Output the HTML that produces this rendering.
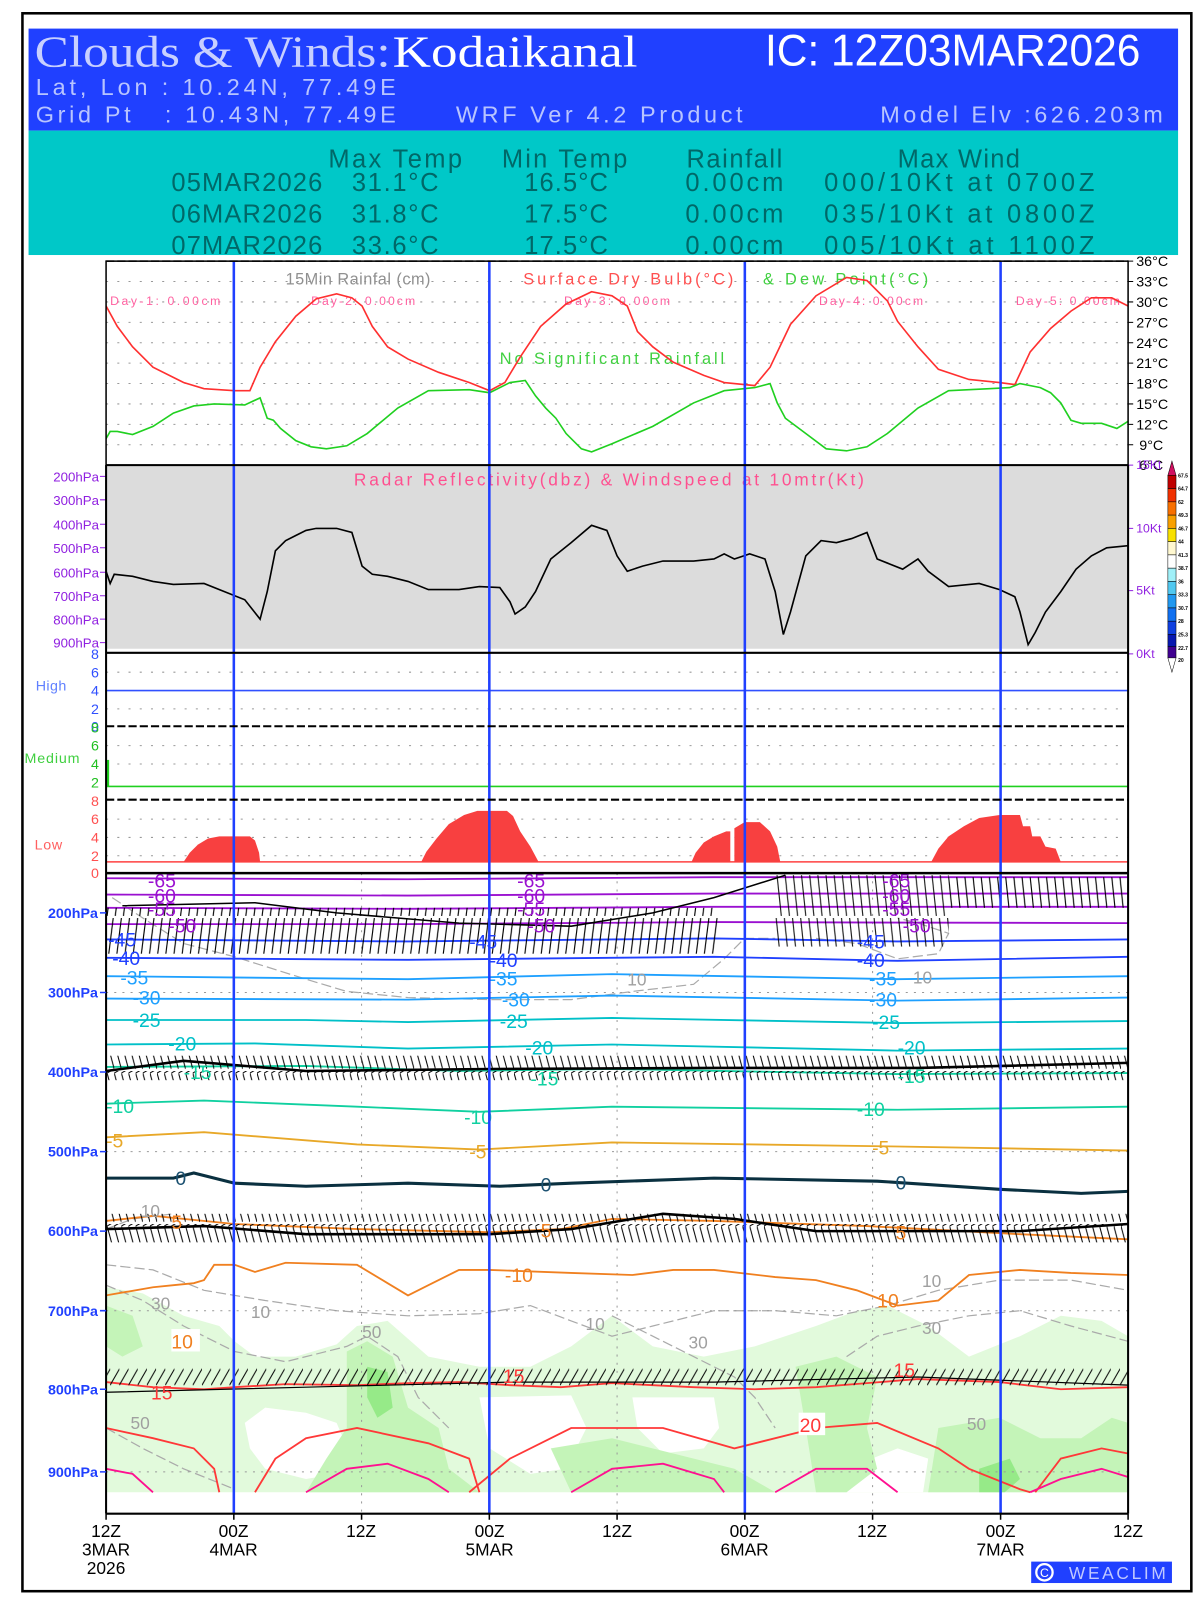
<!DOCTYPE html>
<html><head><meta charset="utf-8"><style>
html,body{margin:0;padding:0;background:#fff;width:1200px;height:1600px;overflow:hidden}
svg{display:block}
text{font-family:"Liberation Sans",sans-serif}
</style></head><body>
<svg width="1200" height="1600" viewBox="0 0 1176.5 1568.6" xmlns="http://www.w3.org/2000/svg">
<defs>
<pattern id="bA" width="8" height="50" patternUnits="userSpaceOnUse"><path d="M1 0 L6 48" stroke="#000" stroke-width="1.1"/></pattern>
<pattern id="bB" width="8" height="50" patternUnits="userSpaceOnUse"><path d="M7 0 L1 48" stroke="#000" stroke-width="1.1"/></pattern>
<pattern id="bC" width="7" height="30" patternUnits="userSpaceOnUse"><path d="M0 2 L7 28 M0 2 L14 -6" stroke="#000" stroke-width="1"/></pattern>
<pattern id="bD" width="9" height="34" patternUnits="userSpaceOnUse"><path d="M0 32 L16 4 M0 32 L-10 26" stroke="#000" stroke-width="1"/></pattern>
</defs>
<rect x="0" y="0" width="1176.5" height="1568.6" fill="#fff"/>
<rect x="22" y="13" width="1146" height="1547" fill="none" stroke="#000" stroke-width="2.5"/>
<!-- header -->
<rect x="28" y="28" width="1127" height="100" fill="#2040ff"/>
<text x="34" y="65" font-size="44" fill="#c8d0ff" style="font-family:'Liberation Serif',serif" textLength="349" lengthAdjust="spacingAndGlyphs">Clouds &amp; Winds:</text>
<text x="385" y="65" font-size="44" fill="#fff" style="font-family:'Liberation Serif',serif" textLength="240" lengthAdjust="spacingAndGlyphs">Kodaikanal</text>
<text x="750" y="64" font-size="44" fill="#fff" textLength="368" lengthAdjust="spacingAndGlyphs">IC: 12Z03MAR2026</text>
<text x="35" y="93" font-size="23" fill="#b8c4ff" textLength="353" lengthAdjust="spacing" xml:space="preserve">Lat, Lon : 10.24N, 77.49E</text>
<text x="35" y="120" font-size="23" fill="#b8c4ff" textLength="353" lengthAdjust="spacing" xml:space="preserve">Grid Pt   : 10.43N, 77.49E</text>
<text x="447" y="120" font-size="23" fill="#b8c4ff" textLength="281" lengthAdjust="spacing">WRF Ver 4.2 Product</text>
<text x="863" y="120" font-size="23" fill="#b8c4ff" textLength="277" lengthAdjust="spacing">Model Elv :626.203m</text>
<rect x="28" y="128" width="1127" height="122" fill="#00c8c8"/>
<g font-size="25" fill="#006868">
<text x="322" y="164" textLength="131" lengthAdjust="spacing">Max Temp</text><text x="492" y="164" textLength="123" lengthAdjust="spacing">Min Temp</text><text x="673" y="164" textLength="94" lengthAdjust="spacing">Rainfall</text><text x="880" y="164" textLength="120" lengthAdjust="spacing">Max Wind</text>
<text x="168" y="187" textLength="148" lengthAdjust="spacing">05MAR2026</text><text x="345" y="187" textLength="85" lengthAdjust="spacing">31.1°C</text><text x="514" y="187" textLength="82" lengthAdjust="spacing">16.5°C</text><text x="672" y="187" textLength="96" lengthAdjust="spacing">0.00cm</text><text x="808" y="187" textLength="265" lengthAdjust="spacing">000/10Kt at 0700Z</text>
<text x="168" y="218" textLength="148" lengthAdjust="spacing">06MAR2026</text><text x="345" y="218" textLength="85" lengthAdjust="spacing">31.8°C</text><text x="514" y="218" textLength="82" lengthAdjust="spacing">17.5°C</text><text x="672" y="218" textLength="96" lengthAdjust="spacing">0.00cm</text><text x="808" y="218" textLength="265" lengthAdjust="spacing">035/10Kt at 0800Z</text>
<text x="168" y="249" textLength="148" lengthAdjust="spacing">07MAR2026</text><text x="345" y="249" textLength="85" lengthAdjust="spacing">33.6°C</text><text x="514" y="249" textLength="82" lengthAdjust="spacing">17.5°C</text><text x="672" y="249" textLength="96" lengthAdjust="spacing">0.00cm</text><text x="808" y="249" textLength="265" lengthAdjust="spacing">005/10Kt at 1100Z</text>
</g>
<!-- temp panel -->
<g stroke="#999" stroke-width="1" stroke-dasharray="2,9">
<path d="M104 276H1106M104 296H1106M104 316H1106M104 336H1106M104 356H1106M104 376H1106M104 396H1106M104 416H1106M104 436H1106"/>
</g>
<g font-size="14" fill="#000">
<text x="1114" y="261">36°C</text><text x="1114" y="281">33°C</text><text x="1114" y="301">30°C</text><text x="1114" y="321">27°C</text><text x="1114" y="341">24°C</text><text x="1114" y="361">21°C</text><text x="1114" y="381">18°C</text><text x="1114" y="401">15°C</text><text x="1114" y="421">12°C</text><text x="1117" y="441">9°C</text><text x="1117" y="461">6°C</text>
</g>
<path d="M1106 256h5M1106 276h5M1106 296h5M1106 316h5M1106 336h5M1106 356h5M1106 376h5M1106 396h5M1106 416h5M1106 436h5" stroke="#000"/>
<text x="280" y="279" font-size="16" fill="#909090" textLength="142" lengthAdjust="spacing">15Min Rainfal (cm)</text>
<text x="513" y="279" font-size="16" fill="#ff5050" textLength="206" lengthAdjust="spacing">Surface Dry Bulb(°C)</text>
<text x="748" y="279" font-size="16" fill="#40d040" textLength="162" lengthAdjust="spacing">&amp; Dew Point(°C)</text>
<g font-size="12" fill="#ff60a0"><text x="108" y="299" textLength="108" lengthAdjust="spacing">Day-1: 0.00cm</text><text x="305" y="299" textLength="102" lengthAdjust="spacing">Day-2: 0.00cm</text><text x="553" y="299" textLength="104" lengthAdjust="spacing">Day-3: 0.00cm</text><text x="803" y="299" textLength="102" lengthAdjust="spacing">Day-4: 0.00cm</text><text x="996" y="299" textLength="102" lengthAdjust="spacing">Day-5: 0.00cm</text></g>
<text x="490" y="357" font-size="16" fill="#40d040" textLength="220" lengthAdjust="spacing">No Significant Rainfall</text>
<path fill="none" stroke="#ff3030" stroke-width="1.6" d="M104 300L115 320L130 340L150 360L180 375L200 381L230 383L245 383L255 360L270 335L290 310L310 293L330 288L345 292L355 300L365 320L380 340L400 352L430 365L460 375L480 383L495 375L510 350L530 320L555 298L580 286L600 290L615 300L625 325L640 340L660 355L690 368L710 375L740 378L755 360L775 318L800 290L830 272L850 275L870 295L880 315L900 340L920 362L950 372L980 375L995 377L1010 345L1030 322L1050 305L1070 292L1090 292L1106 300"/>
<path fill="none" stroke="#20d020" stroke-width="1.6" d="M104 430L108 423L115 423L130 426L150 418L170 405L190 398L210 396L240 397L255 390L262 410L268 412L275 420L290 432L305 438L320 440L340 437L360 425L390 400L420 383L460 382L480 385L500 375L515 373L525 388L535 400L545 410L555 425L570 440L580 443L600 435L640 418L680 395L710 383L740 380L755 376L762 395L770 410L790 425L810 440L830 442L850 438L870 425L900 400L930 383L970 381L990 380L1000 376L1020 380L1030 385L1040 395L1050 412L1060 415L1080 415L1095 420L1106 413"/>
<!-- radar panel -->
<rect x="104" y="456" width="1002" height="180" fill="#dcdcdc"/>
<text x="347" y="476" font-size="17" fill="#ff5090" textLength="500" lengthAdjust="spacing">Radar Reflectivity(dbz) &amp; Windspeed at 10mtr(Kt)</text>
<g font-size="13" fill="#9020e0" text-anchor="end">
<text x="97" y="472">200hPa</text><text x="97" y="495">300hPa</text><text x="97" y="519">400hPa</text><text x="97" y="542">500hPa</text><text x="97" y="566">600hPa</text><text x="97" y="589">700hPa</text><text x="97" y="612">800hPa</text><text x="97" y="635">900hPa</text>
</g>
<g font-size="12" fill="#9020e0"><text x="1114" y="460">15Kt</text><text x="1114" y="522">10Kt</text><text x="1114" y="583">5Kt</text><text x="1114" y="645">0Kt</text></g>
<path d="M1106 456h5M1106 518h5M1106 579h5M1106 641h5M98 467h6M98 490h6M98 514h6M98 537h6M98 561h6M98 584h6M98 607h6M98 630h6" stroke="#9020e0"/>
<path fill="none" stroke="#000" stroke-width="1.6" d="M104 560L108 572L112 563L130 565L150 570L170 573L200 572L220 580L240 588L255 607L262 580L270 540L280 530L290 525L300 520L310 518L330 518L345 522L355 555L365 563L380 565L400 570L420 578L450 578L470 575L490 576L500 590L505 602L515 595L525 580L540 548L560 532L580 515L595 520L605 545L615 560L630 555L650 550L680 550L700 548L710 543L720 548L735 543L750 548L760 580L768 622L775 600L790 545L805 530L820 532L835 528L850 522L860 548L870 552L885 558L900 548L910 560L930 575L960 572L980 578L995 585L1000 600L1008 632L1015 620L1025 600L1040 580L1055 558L1070 545L1085 537L1106 535"/>
<!-- colorbar -->
<g stroke="#000" stroke-width="0.5">
<path d="M1145 466L1149 452L1153 466Z" fill="#d01060"/>
<rect x="1145" y="466" width="8" height="13" fill="#c00000"/>
<rect x="1145" y="479" width="8" height="13" fill="#f03000"/>
<rect x="1145" y="492" width="8" height="13" fill="#f87000"/>
<rect x="1145" y="505" width="8" height="13" fill="#f8a000"/>
<rect x="1145" y="518" width="8" height="13" fill="#f8e000"/>
<rect x="1145" y="531" width="8" height="13" fill="#fff8d0"/>
<rect x="1145" y="544" width="8" height="13" fill="#ffffff"/>
<rect x="1145" y="557" width="8" height="13" fill="#a0f0f8"/>
<rect x="1145" y="570" width="8" height="13" fill="#50c8f0"/>
<rect x="1145" y="583" width="8" height="13" fill="#2098f0"/>
<rect x="1145" y="596" width="8" height="13" fill="#1070f0"/>
<rect x="1145" y="609" width="8" height="13" fill="#1040e0"/>
<rect x="1145" y="622" width="8" height="12" fill="#0818b0"/>
<rect x="1145" y="634" width="8" height="11" fill="#400090"/>
<path d="M1145 645L1149 659L1153 645Z" fill="#fff"/>
</g>
<g font-size="5" fill="#000" font-weight="bold"><text x="1155" y="468">67.5</text><text x="1155" y="481">64.7</text><text x="1155" y="494">62</text><text x="1155" y="507">49.3</text><text x="1155" y="520">46.7</text><text x="1155" y="533">44</text><text x="1155" y="546">41.3</text><text x="1155" y="559">38.7</text><text x="1155" y="572">36</text><text x="1155" y="585">33.3</text><text x="1155" y="598">30.7</text><text x="1155" y="611">28</text><text x="1155" y="624">25.3</text><text x="1155" y="637">22.7</text><text x="1155" y="649">20</text></g>
<!-- cloud panels -->
<g stroke="#999" stroke-dasharray="2,9"><path d="M104 659H1106M104 695H1106M104 731H1106M104 749H1106M104 803H1106M104 821H1106M104 839H1106"/></g>
<line x1="104" y1="677" x2="1106" y2="677" stroke="#3050ff" stroke-width="1.5"/>
<line x1="104" y1="771" x2="1106" y2="771" stroke="#20d020" stroke-width="1.5"/>
<rect x="104" y="745" width="3" height="26" fill="#20d020"/>
<line x1="104" y1="845" x2="1106" y2="845" stroke="#ff4040" stroke-width="1.5"/>
<g fill="#f84040">
<path d="M180 845L186 836L194 828L204 822L215 820L245 820L250 824L254 836L255 845Z"/>
<path d="M413 845L418 835L428 822L440 808L455 799L468 795L497 795L503 800L510 815L520 830L528 845Z"/>
<path d="M678 845L682 836L690 826L700 820L712 815L716 815L716 845L720 845L720 812L730 806L745 806L755 815L762 830L765 845Z"/>
<path d="M913 845L920 832L930 820L945 810L960 802L980 799L1000 799L1003 810L1010 810L1012 820L1020 820L1025 830L1035 832L1040 845Z"/>
</g>
<g font-size="14" text-anchor="end">
<text x="97" y="646" fill="#3050ff">8</text><text x="97" y="664" fill="#3050ff">6</text><text x="97" y="682" fill="#3050ff">4</text><text x="97" y="700" fill="#3050ff">2</text><text x="97" y="717" fill="#3050ff">0</text>
<text x="97" y="718" fill="#20c020">8</text><text x="97" y="736" fill="#20c020">6</text><text x="97" y="754" fill="#20c020">4</text><text x="97" y="772" fill="#20c020">2</text>
<text x="97" y="790" fill="#ff5050">8</text><text x="97" y="808" fill="#ff5050">6</text><text x="97" y="826" fill="#ff5050">4</text><text x="97" y="844" fill="#ff5050">2</text><text x="97" y="861" fill="#ff5050">0</text>
</g>
<text x="35" y="677" font-size="14" fill="#6080ff" textLength="30" lengthAdjust="spacing">High</text>
<text x="24" y="748" font-size="14" fill="#40d040" textLength="54" lengthAdjust="spacing">Medium</text>
<text x="34" y="833" font-size="14" fill="#ff6060" textLength="27" lengthAdjust="spacing">Low</text>
<!-- bottom panel RH fills -->
<path fill="#e2fadc" d="M104 1262L140 1268L180 1290L215 1300L230 1315L250 1330L290 1330L330 1318L350 1300L380 1295L420 1330L470 1340L520 1340L560 1320L600 1290L640 1320L690 1330L740 1320L800 1300L840 1285L870 1280L910 1300L950 1330L1000 1310L1040 1290L1080 1295L1106 1310L1106 1463L104 1463Z"/>
<path fill="#fff" d="M240 1395L260 1380L300 1385L330 1395L345 1430L330 1445L300 1450L260 1440L245 1420Z"/>
<path fill="#fff" d="M470 1370L560 1368L575 1400L555 1440L520 1445L480 1420Z"/>
<path fill="#fff" d="M620 1370L700 1370L705 1400L690 1420L650 1425L625 1400Z"/>
<path fill="#fff" d="M830 1440L880 1420L910 1430L905 1463L830 1463Z"/>
<path fill="#c4f4b8" d="M340 1325L360 1315L385 1330L400 1380L430 1400L440 1440L470 1463L300 1463L320 1430L340 1400Z"/>
<path fill="#c4f4b8" d="M540 1420L600 1410L660 1425L720 1440L760 1463L560 1463Z"/>
<path fill="#c4f4b8" d="M780 1340L820 1330L860 1350L850 1400L860 1440L830 1463L800 1463L790 1400Z"/>
<path fill="#c4f4b8" d="M920 1400L980 1390L1020 1410L1060 1410L1090 1390L1106 1395L1106 1463L910 1463Z"/>
<path fill="#c4f4b8" d="M104 1280L130 1290L140 1320L120 1330L104 1320Z"/>
<path fill="#96ea88" d="M960 1440L990 1430L1000 1450L985 1463L960 1463Z"/>
<path fill="#96ea88" d="M360 1340L380 1345L385 1380L370 1390L360 1370Z"/>
<!-- gray RH contours -->
<g fill="none" stroke="#aaa" stroke-width="1.2" stroke-dasharray="10,4">
<path d="M110 880L140 900L180 925L230 938L300 960L340 972L400 978L480 980L560 980L620 972L680 965L710 940L730 920L760 920"/>
<path d="M800 920L840 925L880 940L920 935L930 915L900 905L880 900"/>
<path d="M104 1205L130 1195L170 1190"/>
<path d="M104 1240L150 1245L200 1265L260 1275L330 1285L400 1290L470 1288L520 1280L560 1295L600 1310L640 1300L700 1285L760 1285L820 1290L870 1280L920 1265L980 1255L1050 1255L1106 1265"/>
<path d="M104 1260L140 1275L180 1300L230 1325L280 1335L340 1320L360 1310L390 1330L410 1370L440 1400"/>
<path d="M104 1400L140 1420L180 1440L230 1460"/>
<path d="M600 1290L640 1310L680 1330L720 1350L740 1370L760 1400"/>
<path d="M830 1330L860 1310L900 1300L950 1290L1000 1285L1050 1300L1106 1315"/>
</g>
<!-- vertical dotted gridlines -->
<g stroke="#999" stroke-dasharray="2,6"><path d="M354.5 856V1484M605 856V1484M855.5 856V1484"/>
<path d="M104 973H1106M104 1129H1106M104 1285H1106M104 1443H1106"/></g>
<!-- temperature contours -->
<g fill="none" stroke-width="1.8">
<path stroke="#9a10d0" d="M104 861L400 862L700 860L1106 860"/>
<path stroke="#9a10d0" d="M104 877L400 878L700 876L1106 876"/>
<path stroke="#9a10d0" d="M104 890L400 891L700 889L1106 889"/>
<path stroke="#9a10d0" d="M104 906L400 906L700 904L1106 905"/>
<path stroke="#2040ff" d="M104 921L400 923L700 920L880 923L1106 921"/>
<path stroke="#2040ff" d="M104 939L400 941L700 938L880 942L1106 938"/>
<path stroke="#1ea0ff" d="M104 957L400 960L600 955L880 960L1106 957"/>
<path stroke="#1ea0ff" d="M104 979L400 980L600 976L880 981L1106 978"/>
<path stroke="#00c0c8" d="M104 1000L300 1000L400 1002L600 998L880 1003L1106 1001"/>
<path stroke="#00c0c8" d="M104 1024L250 1023L400 1028L600 1024L880 1030L1106 1028"/>
<path stroke="#10d0a0" d="M104 1046L300 1045L450 1050L600 1048L880 1053L1106 1052"/>
<path stroke="#10d0a0" d="M104 1082L200 1079L350 1085L470 1090L600 1085L880 1088L1106 1085"/>
<path stroke="#e8a828" d="M104 1115L200 1110L350 1122L470 1127L600 1120L880 1124L1106 1128"/>
<path stroke="#0a3040" stroke-width="3" d="M104 1155L170 1155L190 1150L230 1160L300 1163L400 1160L490 1163L560 1160L700 1155L860 1158L980 1166L1060 1170L1106 1168"/>
<path stroke="#f08020" d="M104 1197L150 1192L230 1200L350 1205L480 1208L550 1205L600 1195L700 1197L850 1202L1000 1210L1106 1215"/>
<path stroke="#f08020" d="M104 1270L150 1262L170 1260L190 1258L200 1255L210 1240L230 1240L250 1247L280 1238L350 1240L380 1258L400 1270L420 1260L450 1245L480 1245L560 1248L620 1250L660 1245L700 1245L760 1252L800 1255L840 1265L880 1280L920 1275L950 1250L1000 1245L1050 1248L1106 1250"/>
<path stroke="#ff3838" d="M104 1355L150 1360L200 1362L230 1360L280 1357L350 1358L400 1356L450 1355L500 1358L550 1360L600 1356L680 1360L740 1362L800 1360L850 1356L900 1352L980 1355L1040 1362L1106 1360"/>
<path stroke="#ff3838" d="M104 1400L150 1410L190 1420L210 1440L215 1463"/>
<path stroke="#ff3838" d="M250 1463L270 1430L300 1410L350 1400L420 1415L460 1430L470 1463"/>
<path stroke="#ff3838" d="M460 1463L500 1430L560 1400L650 1400L720 1420L800 1400L860 1395L920 1420L950 1440L1000 1460L1010 1463"/>
<path stroke="#ff3838" d="M1015 1463L1040 1430L1080 1420L1106 1425"/>
<path stroke="#ff1090" d="M104 1440L130 1445L150 1463"/>
<path stroke="#ff1090" d="M300 1463L340 1440L380 1435L420 1450L440 1463"/>
<path stroke="#ff1090" d="M560 1463L600 1440L650 1435L700 1450L710 1463"/>
<path stroke="#ff1090" d="M760 1463L800 1440L850 1440L880 1463"/>
<path stroke="#ff1090" d="M1010 1463L1040 1450L1080 1440L1106 1448"/>
</g>
<!-- wind barb bands -->
<rect x="104" y="890" width="600" height="45" fill="url(#bB)"/>
<path d="M120 888L250 885L330 895L450 905L560 908L640 895L700 880L770 858" stroke="#000" stroke-width="1.5" fill="none"/>
<rect x="760" y="858" width="170" height="70" fill="url(#bA)" opacity="0.9"/>
<rect x="930" y="860" width="176" height="30" fill="url(#bA)"/>
<rect x="104" y="1035" width="1002" height="24" fill="url(#bC)"/>
<path d="M104 1050L180 1040L300 1050L480 1048L700 1047L900 1047L1106 1042" stroke="#000" stroke-width="2.5" fill="none"/>
<rect x="104" y="1190" width="1002" height="28" fill="url(#bC)"/>
<path d="M104 1205L200 1202L300 1210L480 1210L560 1205L650 1190L720 1195L800 1207L1000 1207L1106 1200" stroke="#000" stroke-width="2.5" fill="none"/>
<rect x="104" y="1332" width="1002" height="34" fill="url(#bD)"/>
<path d="M104 1365L300 1360L500 1355L700 1355L900 1350L1106 1358" stroke="#000" stroke-width="1.2" fill="none"/>
<!-- contour labels -->
<g font-size="19">
<g fill="#9a10d0"><text x="145" y="870">-65</text><text x="145" y="885">-60</text><text x="145" y="898">-55</text><text x="165" y="914">-50</text>
<text x="507" y="870">-65</text><text x="507" y="885">-60</text><text x="507" y="898">-55</text><text x="517" y="914">-50</text>
<text x="865" y="870">-65</text><text x="865" y="885">-60</text><text x="865" y="898">-55</text><text x="885" y="914">-50</text></g>
<g fill="#2040ff"><text x="106" y="928">-45</text><text x="110" y="946">-40</text><text x="460" y="930">-45</text><text x="480" y="948">-40</text><text x="840" y="930">-45</text><text x="840" y="948">-40</text></g>
<g fill="#1ea0ff"><text x="118" y="965">-35</text><text x="130" y="985">-30</text><text x="480" y="966">-35</text><text x="492" y="987">-30</text><text x="852" y="966">-35</text><text x="852" y="987">-30</text></g>
<g fill="#00c0c8"><text x="130" y="1007">-25</text><text x="165" y="1030">-20</text><text x="490" y="1008">-25</text><text x="515" y="1034">-20</text><text x="855" y="1009">-25</text><text x="880" y="1034">-20</text></g>
<g fill="#10d0a0"><text x="180" y="1058">-15</text><text x="520" y="1064">-15</text><text x="880" y="1062">-15</text><text x="104" y="1091">-10</text><text x="455" y="1102">-10</text><text x="840" y="1094">-10</text></g>
<g fill="#e8a828"><text x="104" y="1125">-5</text><text x="460" y="1136">-5</text><text x="855" y="1132">-5</text></g>
<g fill="#1a5070"><text x="172" y="1162">0</text><text x="530" y="1168">0</text><text x="878" y="1166">0</text></g>
<g fill="#f08020"><text x="168" y="1205">5</text><text x="530" y="1213">5</text><text x="878" y="1215">5</text><text x="495" y="1257">-10</text><text x="860" y="1282">10</text></g>
<rect x="168" y="1303" width="28" height="22" fill="#fff"/><text x="168" y="1322" fill="#f08020">10</text>
<g fill="#ff3838"><text x="148" y="1372">15</text><text x="493" y="1356">15</text><text x="876" y="1350">15</text></g>
<rect x="783" y="1385" width="26" height="22" fill="#fff"/><text x="784" y="1404" fill="#ff3838">20</text>
<g fill="#a0a0a0" font-size="17"><text x="148" y="1284">30</text><text x="246" y="1292">10</text><text x="574" y="1304">10</text><text x="675" y="1322">30</text><text x="904" y="1262">10</text><text x="904" y="1308">30</text><text x="355" y="1312">50</text><text x="128" y="1401">50</text><text x="948" y="1402">50</text><text x="895" y="964">10</text><text x="615" y="966">10</text><text x="138" y="1193">10</text></g>
</g>
<!-- vertical blue lines -->
<g stroke="#2040ff" stroke-width="2.5"><path d="M229.25 256V1484M479.75 256V1484M730.25 256V1484M981 256V1484"/></g>
<!-- panel frames -->
<g fill="none" stroke="#000">
<rect x="104" y="256" width="1002" height="200" stroke-width="1.5"/>
<line x1="104" y1="456" x2="1106" y2="456" stroke-width="2"/>
<line x1="104" y1="640" x2="1106" y2="640" stroke-width="2"/>
<line x1="104" y1="712" x2="1106" y2="712" stroke-width="2" stroke-dasharray="8,3"/>
<line x1="104" y1="784" x2="1106" y2="784" stroke-width="2" stroke-dasharray="8,3"/>
<line x1="104" y1="856" x2="1106" y2="856" stroke-width="2.5"/>
<line x1="104" y1="456" x2="104" y2="1484" stroke-width="2"/>
<line x1="1106" y1="456" x2="1106" y2="1484" stroke-width="2"/>
<line x1="104" y1="1484" x2="1106" y2="1484" stroke-width="2"/>
<line x1="104" y1="256" x2="1106" y2="256" stroke-width="1.5" stroke-dasharray="8,3"/>
</g>
<!-- pressure labels bottom panel -->
<g font-size="14" fill="#2040ff" text-anchor="end" font-weight="bold">
<text x="96" y="900">200hPa</text><text x="96" y="978">300hPa</text><text x="96" y="1056">400hPa</text><text x="96" y="1134">500hPa</text><text x="96" y="1212">600hPa</text><text x="96" y="1290">700hPa</text><text x="96" y="1367">800hPa</text><text x="96" y="1448">900hPa</text>
</g>
<path d="M98 895h6M98 973h6M98 1051h6M98 1129h6M98 1207h6M98 1285h6M98 1362h6M98 1443h6" stroke="#2040ff" stroke-width="1.5"/>
<!-- time axis -->
<path d="M104 1484v6M229.25 1484v6M354.5 1484v6M479.75 1484v6M605 1484v6M730.25 1484v6M855.5 1484v6M981 1484v6M1106 1484v6" stroke="#000" stroke-width="1.5"/>
<g font-size="17" fill="#000" text-anchor="middle">
<text x="104" y="1507">12Z</text><text x="104" y="1525">3MAR</text><text x="104" y="1543">2026</text>
<text x="229" y="1507">00Z</text><text x="229" y="1525">4MAR</text>
<text x="354" y="1507">12Z</text>
<text x="480" y="1507">00Z</text><text x="480" y="1525">5MAR</text>
<text x="605" y="1507">12Z</text>
<text x="730" y="1507">00Z</text><text x="730" y="1525">6MAR</text>
<text x="855" y="1507">12Z</text>
<text x="981" y="1507">00Z</text><text x="981" y="1525">7MAR</text>
<text x="1106" y="1507">12Z</text>
</g>
<rect x="1011" y="1531" width="138" height="21" fill="#2040ff"/>
<circle cx="1024" cy="1541.5" r="8" fill="none" stroke="#fff" stroke-width="2.2"/>
<text x="1024" y="1546" font-size="12" fill="#fff" text-anchor="middle">C</text>
<text x="1048" y="1548" font-size="17" fill="#c0c8ff" textLength="95" lengthAdjust="spacing">WEACLIM</text>
</svg>
</body></html>
